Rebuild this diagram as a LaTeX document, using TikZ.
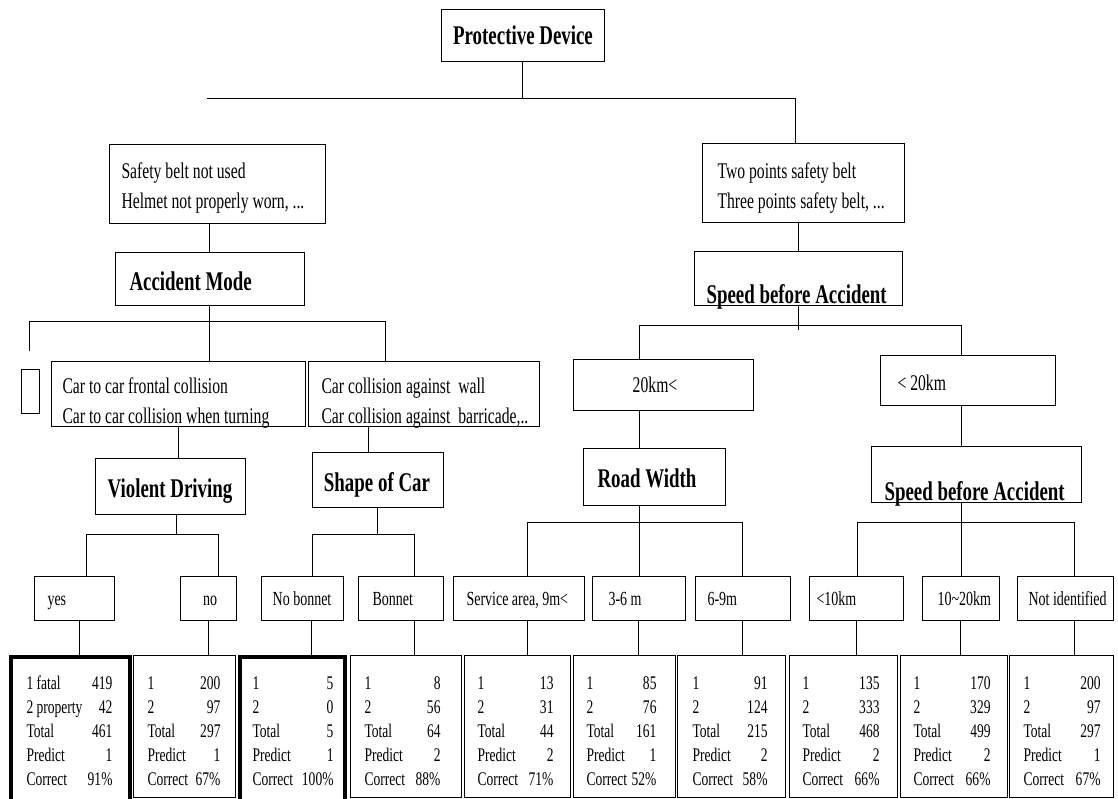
\documentclass[tikz,border=0pt]{standalone}
\usepackage{fontspec}
\setmainfont{Liberation Serif}[FakeStretch=0.7]
\newcommand{\mystats}[2]{\begin{tabular*}{#1}[t]{@{}l@{\extracolsep{\fill}}r@{}}#2\end{tabular*}}
\begin{document}
\begin{tikzpicture}[x=1pt,y=-1pt,line width=1pt,
  rb/.style={draw,rectangle,inner sep=0pt,outer sep=0pt,anchor=north west},
  thk/.style={line width=3.8pt},
  lt/.style={inner sep=0pt,anchor=base west},
  ct/.style={inner sep=0pt,anchor=base},
  hd/.style={font=\fontsize{27}{30}\selectfont\bfseries},
  tx/.style={font=\fontsize{22.4}{28}\selectfont},
  lv/.style={font=\fontsize{20}{24}\selectfont},
  st/.style={inner sep=0pt,anchor=base west,font=\fontsize{19.3}{24}\selectfont}]
\useasboundingbox (0,0) rectangle (1118,799);

% ---------- top ----------
\node[rb,minimum width=163pt,minimum height=52pt] (pd) at (441,10) {};
\node[ct,hd] (pdt) at (523,45) {Protective Device};
\coordinate (j1a) at (207,99);
\coordinate (j1b) at (795,99);

\node[rb,minimum width=216pt,minimum height=79pt] (sb) at (109,145) {};
\node[lt,tx] (sb1) at (121,179) {Safety belt not used};
\node[lt,tx] (sb2) at (121,209) {Helmet not properly worn, ...};

\node[rb,minimum width=202pt,minimum height=79pt] (tp) at (702,144) {};
\node[lt,tx] (tp1) at (717,179) {Two points safety belt};
\node[lt,tx] (tp2) at (717,209) {Three points safety belt, ...};

\draw (pd.south) -- (pd.south |- j1a);
\draw (j1a) -- (j1b) -- (j1b |- tp.north);

\node[rb,minimum width=189pt,minimum height=53pt] (am) at (115,253) {};
\node[lt,hd] (amt) at (129,291) {Accident Mode};
\draw (am.north) -- (am.north |- sb.south);

\node[rb,minimum width=208pt,minimum height=54pt] (sp1) at (694,252) {};
\node[lt,hd] (sp1t) at (706,304) {Speed before Accident};
\draw (sp1.north) -- (sp1.north |- tp.south);

% ---------- accident mode branch ----------
\coordinate (j2a) at (29,321);
\coordinate (j2b) at (385,321);
\node[rb,minimum width=18pt,minimum height=44pt] (sm) at (21,369) {};
\node[rb,minimum width=254pt,minimum height=65pt] (cc1) at (51,361) {};
\node[lt,tx] (cc1a) at (62,393) {Car to car frontal collision};
\node[lt,tx] (cc1b) at (62,423) {Car to car collision when turning};
\node[rb,minimum width=231pt,minimum height=65pt] (cc2) at (308,361) {};
\node[lt,tx] (cc2a) at (321,393) {Car collision against\ \ wall};
\node[lt,tx] (cc2b) at (321,423) {Car collision against\ \ barricade,..};

\draw (am.south) -- (am.south |- j2a);
\draw (j2a) -- (j2b);
\draw (j2a) -- ++(0,30);
\draw (am.south |- j2a) -- (am.south |- cc1.north);
\draw (j2b) -- (j2b |- cc2.north);

\node[rb,minimum width=150pt,minimum height=56pt] (vd) at (95,458) {};
\node[ct,hd] (vdt) at (170,497) {Violent Driving};
\draw (cc1.south) -- (cc1.south |- vd.north);

\node[rb,minimum width=131pt,minimum height=55pt] (soc) at (312,452) {};
\node[ct,hd] (soct) at (377,491) {Shape of Car};
\draw ([xshift=-9.5pt]soc.north) -- ([xshift=-9.5pt]soc.north |- cc2.south);

% ---------- speed branch ----------
\coordinate (j3a) at (639,325);
\coordinate (j3b) at (961,325);
\node[rb,minimum width=180pt,minimum height=51pt] (km1) at (573,359) {};
\node[ct,tx] (km1t) at (655,392) {20km<};
\node[rb,minimum width=175pt,minimum height=50pt] (km2) at (880,355) {};
\node[lt,tx] (km2t) at (897,390) {< 20km};
\draw (sp1.south) -- ++(0,24);
\draw (j3a) -- (j3b);
\draw (j3a) -- (j3a |- km1.north);
\draw (j3b) -- (j3b |- km2.north);

\node[rb,minimum width=142pt,minimum height=57pt] (rw) at (583,448) {};
\node[lt,hd] (rwt) at (597,487) {Road Width};
\draw (j3a |- km1.south) -- (j3a |- rw.north);

\node[rb,minimum width=210pt,minimum height=56pt] (sp2) at (871,446) {};
\node[lt,hd] (sp2t) at (884,500) {Speed before Accident};
\draw (j3b |- km2.south) -- (j3b |- sp2.north);

% ---------- level 4 boxes ----------
\node[rb,minimum width=80pt,minimum height=44pt] (yes) at (34,576) {};
\node[lt,lv] (yest) at (47,605) {yes};
\node[rb,minimum width=56pt,minimum height=44pt] (no) at (180,576) {};
\node[ct,lv] (not) at (210,605) {no};
\node[rb,minimum width=82pt,minimum height=44pt] (nb) at (261,576) {};
\node[ct,lv] (nbt) at (302,605) {No bonnet};
\node[rb,minimum width=85pt,minimum height=44pt] (bn) at (358,576) {};
\node[lt,lv] (bnt) at (372,605) {Bonnet};
\node[rb,minimum width=131pt,minimum height=44pt] (sa) at (453,576) {};
\node[lt,lv] (sat) at (466,605) {Service area, 9m<};
\node[rb,minimum width=93pt,minimum height=44pt] (m36) at (592,576) {};
\node[lt,lv] (m36t) at (608,605) {3-6 m};
\node[rb,minimum width=95pt,minimum height=44pt] (m69) at (695,576) {};
\node[lt,lv] (m69t) at (707,605) {6-9m};
\node[rb,minimum width=94pt,minimum height=44pt] (k10) at (809,576) {};
\node[lt,lv] (k10t) at (816,605) {<10km};
\node[rb,minimum width=77pt,minimum height=44pt] (k1020) at (922,576) {};
\node[lt,lv] (k1020t) at (937,605) {10\textasciitilde 20km};
\node[rb,minimum width=96pt,minimum height=44pt] (ni) at (1017,576) {};
\node[lt,lv] (nit) at (1028,605) {Not identified};

% buses to level 4
\coordinate (j4a) at (86,534);
\coordinate (j4b) at (218,534);
\draw ([xshift=6pt]vd.south) -- ([xshift=6pt]vd.south |- j4a);
\draw (j4a) -- (j4b);
\draw (j4a) -- (j4a |- yes.north);
\draw (j4b) -- (j4b |- no.north);

\coordinate (j5a) at (312,534);
\coordinate (j5b) at (414,534);
\draw (soc.south) -- (soc.south |- j5a);
\draw (j5a) -- (j5b);
\draw (j5a) -- (j5a |- nb.north);
\draw (j5b) -- (j5b |- bn.north);

\coordinate (j6a) at (527,522);
\coordinate (j6b) at (742,522);
\draw (j3a |- rw.south) -- (j3a |- j6a);
\draw (j6a) -- (j6b);
\draw (j6a) -- (j6a |- sa.north);
\draw (j3a |- j6a) -- (j3a |- m36.north);
\draw (j6b) -- (j6b |- m69.north);

\coordinate (j7a) at (857,522);
\coordinate (j7b) at (1074,522);
\draw (j3b |- sp2.south) -- (j3b |- j7a);
\draw (j7a) -- (j7b);
\draw (j7a) -- (j7a |- k10.north);
\draw (j3b |- j7a) -- (j3b |- k1020.north);
\draw (j7b) -- (j7b |- ni.north);

% ---------- bottom boxes ----------
\node[rb,thk,minimum width=119pt,minimum height=146pt] (b1) at (11,657) {};
\node[rb,minimum width=101.5pt,minimum height=142pt] (b2) at (133.5,655) {};
\node[rb,thk,minimum width=105pt,minimum height=146pt] (b3) at (240,657) {};
\node[rb,minimum width=111pt,minimum height=142pt] (b4) at (350,655) {};
\node[rb,minimum width=106pt,minimum height=142pt] (b5) at (464,655) {};
\node[rb,minimum width=102pt,minimum height=142pt] (b6) at (573,655) {};
\node[rb,minimum width=108pt,minimum height=142pt] (b7) at (677,655) {};
\node[rb,minimum width=108pt,minimum height=142pt] (b8) at (789,655) {};
\node[rb,minimum width=107pt,minimum height=142pt] (b9) at (900,655) {};
\node[rb,minimum width=104pt,minimum height=142pt] (b10) at (1009,655) {};

\draw ([xshift=5pt]yes.south) -- ([xshift=5pt]yes.south |- b1.north);
\draw (no.south) -- (no.south |- b2.north);
\draw ([xshift=9pt]nb.south) -- ([xshift=9pt]nb.south |- b3.north);
\draw ([xshift=13.5pt]bn.south) -- ([xshift=13.5pt]bn.south |- b4.north);
\draw ([xshift=8.5pt]sa.south) -- ([xshift=8.5pt]sa.south |- b5.north);
\draw (m36.south) -- (m36.south |- b6.north);
\draw (m69.south) -- (m69.south |- b7.north);
\draw (k10.south) -- (k10.south |- b8.north);
\draw (k1020.south) -- (k1020.south |- b9.north);
\draw ([xshift=9pt]ni.south) -- ([xshift=9pt]ni.south |- b10.north);

\node[st] (s1) at (26,689) {\mystats{86pt}{1 fatal & 419\\ 2 property & 42\\ Total & 461\\ Predict & 1\\ Correct & 91\%}};
\node[st] (s2) at (147,689) {\mystats{73pt}{1 & 200\\ 2 & 97\\ Total & 297\\ Predict & 1\\ Correct & 67\%}};
\node[st] (s3) at (252,689) {\mystats{81pt}{1 & 5\\ 2 & 0\\ Total & 5\\ Predict & 1\\ Correct & 100\%}};
\node[st] (s4) at (364,689) {\mystats{76pt}{1 & 8\\ 2 & 56\\ Total & 64\\ Predict & 2\\ Correct & 88\%}};
\node[st] (s5) at (477,689) {\mystats{76pt}{1 & 13\\ 2 & 31\\ Total & 44\\ Predict & 2\\ Correct & 71\%}};
\node[st] (s6) at (586,689) {\mystats{70pt}{1 & 85\\ 2 & 76\\ Total & 161\\ Predict & 1\\ Correct & 52\%}};
\node[st] (s7) at (692,689) {\mystats{75pt}{1 & 91\\ 2 & 124\\ Total & 215\\ Predict & 2\\ Correct & 58\%}};
\node[st] (s8) at (802,689) {\mystats{77pt}{1 & 135\\ 2 & 333\\ Total & 468\\ Predict & 2\\ Correct & 66\%}};
\node[st] (s9) at (913,689) {\mystats{77pt}{1 & 170\\ 2 & 329\\ Total & 499\\ Predict & 2\\ Correct & 66\%}};
\node[st] (s10) at (1023,689) {\mystats{77pt}{1 & 200\\ 2 & 97\\ Total & 297\\ Predict & 1\\ Correct & 67\%}};
\end{tikzpicture}
\end{document}
